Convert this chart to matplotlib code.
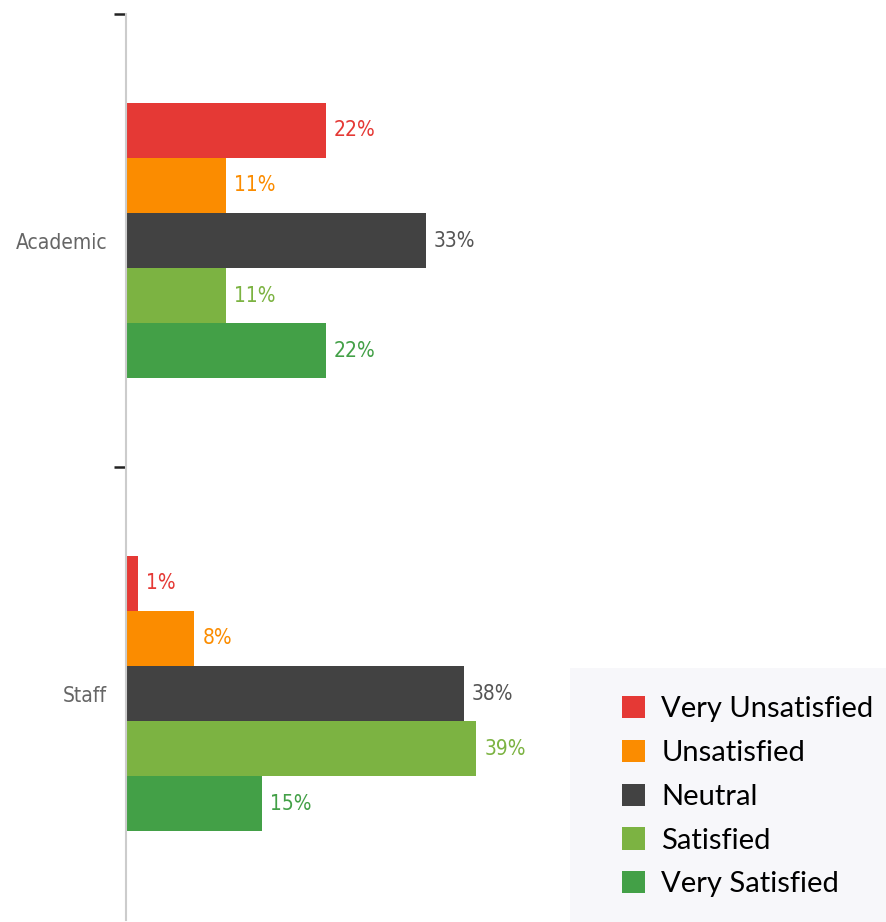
import numpy as np
import matplotlib
matplotlib.use('Agg')
from matplotlib import pyplot as plt
from matplotlib.patches import Rectangle

groups = ['Academic', 'Staff']
levels = ['Very Unsatisfied', 'Unsatisfied', 'Neutral', 'Satisfied', 'Very Satisfied']
academic = [22.2, 11.1, 33.3, 11.1, 22.2]
staff = [1.3, 7.6, 37.5, 38.9, 15.1]
colors = ['#e53935', '#fb8c00', '#424242', '#7cb342', '#43a047']
label_colors = ['#e53935', '#fb8c00', '#555555', '#7cb342', '#43a047']

vals = np.array([academic, staff])

fig = plt.figure(figsize=(8.86, 9.22), dpi=100)
ax = fig.add_axes([126/886, 2/922, 1 - 126/886, 906/922])

numfont = dict(family='DejaVu Sans', stretch='condensed')
h = 0.1215
y0 = np.arange(len(groups))
bars = []
for i, lev in enumerate(levels):
    ypos = y0 + (i - 2)*h
    b = ax.barh(ypos, vals[:, i], height=h, color=colors[i], label=lev)
    bars.append(b)
    for y, v in zip(ypos, vals[:, i]):
        ax.text(v + 0.9, y, '%d%%' % round(v + 0.01), va='center', ha='left',
                fontsize=15, color=label_colors[i], **numfont)

ax.set_ylim(1.5, -0.5)
ax.set_xlim(0, 84.4)

ax.set_yticks([-0.5, 0.5])
ax.set_yticklabels([])
ax.tick_params(axis='y', which='major', length=9, width=1.8, color='#222222')
ax.set_yticks(y0, minor=True)
ax.set_yticklabels(groups, minor=True, fontsize=15, color='#666666', **numfont)
ax.tick_params(axis='y', which='minor', length=0, pad=13.5)
ax.set_xticks([])
for s in ['top', 'right', 'bottom']:
    ax.spines[s].set_visible(False)
ax.spines['left'].set_color('#cccccc')
ax.spines['left'].set_linewidth(1.5)

# legend panel
fig.patches.append(Rectangle((570/886, 0), 316/886, 254/922, transform=fig.transFigure,
                             facecolor='#f7f7fa', edgecolor='none', zorder=0))
fig.legend(handles=bars, labels=levels, loc='upper left',
           bbox_to_anchor=(622/886, 1 - 696/922), frameon=False,
           borderpad=0, handlelength=0.8, handleheight=0.8,
           handletextpad=0.55, labelspacing=0.6, borderaxespad=0,
           prop={'family': ['Lato', 'DejaVu Sans'], 'size': 21})

plt.savefig('out.png', dpi=100)
